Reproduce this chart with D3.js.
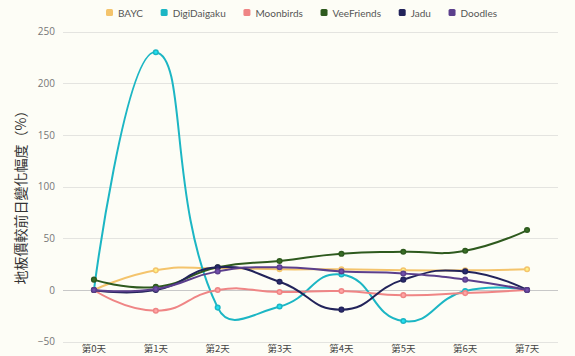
<!DOCTYPE html>
<html><head><meta charset="utf-8">
<script src="https://cdn.jsdelivr.net/npm/d3@7/dist/d3.min.js"></script>
<style>
html,body{margin:0;padding:0;background:#fdfdf6;}
svg{display:block;font-family:"Open Sans","Noto Sans CJK TC",sans-serif;}
</style></head>
<body><svg id="c" width="575" height="356"></svg>
<script>
const categories = ["第0天","第1天","第2天","第3天","第4天","第5天","第6天","第7天"];
const seriesNames = ["BAYC","DigiDaigaku","Moonbirds","VeeFriends","Jadu","Doodles"];
const seriesColors = ["#f4c46c","#1cb6c4","#ef8585","#2e5a1e","#22235a","#5b3f8c"];
const BAYC = [0, 19, 21, 20, 20, 19, 19, 20];
const DigiDaigaku = [0, 230, -17, -16, 15, -30, -1, 0];
const Moonbirds = [0, -20, 0, -2, -1, -5, -3, 0];
const VeeFriends = [10, 3, 22, 28, 35, 37, 38, 58];
const Jadu = [0, 0, 22, 8, -19, 10, 18, 0];
const Doodles = [0, 1, 18, 22, 18, 16, 10, 0];
const yTicks = [-50, 0, 50, 100, 150, 200, 250];
const yTitle = "地板價較前日變化幅度（%）";

const seriesValues = [BAYC, DigiDaigaku, Moonbirds, VeeFriends, Jadu, Doodles];
const svg = d3.select("#c");
const gLeft = 63, gRight = 558, gTop = 31.5, gBottom = 341.7;
const x = d3.scaleBand().domain(categories).range([gLeft, gRight]);
const cx = c => x(c) + x.bandwidth() / 2;
const y = d3.scaleLinear().domain([-50, 250]).range([gBottom, gTop]);

// grid
svg.append("g").selectAll("line").data(yTicks).join("line")
  .attr("x1", gLeft).attr("x2", gRight)
  .attr("y1", d => Math.round(y(d)) + 0.5).attr("y2", d => Math.round(y(d)) + 0.5)
  .attr("stroke", d => d === 0 ? "#c8c8c8" : "#e4e4e0").attr("stroke-width", 1);

// y axis labels
const yAxis = d3.axisLeft(y).tickValues(yTicks).tickSize(0).tickPadding(8);
const gy = svg.append("g").attr("transform", `translate(${gLeft},0)`).call(yAxis);
gy.select(".domain").remove();
gy.selectAll("text").attr("fill", "#777").attr("font-size", 10).attr("font-family", "'Open Sans',sans-serif");

// x axis labels
const xAxis = d3.axisBottom(x).tickSize(0).tickPadding(0);
const gx = svg.append("g").attr("transform", `translate(0,${gBottom + 3})`).call(xAxis);
gx.select(".domain").remove();
gx.selectAll("text").attr("fill", "#444").attr("font-size", 9.5).attr("dy", "0.8em")
  .attr("font-family", "'Noto Sans CJK TC',sans-serif");

// y title
svg.append("text").attr("transform", `translate(26,194) rotate(-90)`)
  .attr("text-anchor", "middle").attr("font-size", 14).attr("fill", "#333")
  .attr("font-family", "'Noto Sans CJK TC',sans-serif").text(yTitle);

// ECharts-like smooth bezier path
function smoothPath(pts, smooth) {
  const p = d3.path();
  let cpx0, cpy0;
  for (let k = 0; k < pts.length; k++) {
    const [px, py] = pts[k];
    if (k === 0) { p.moveTo(px, py); cpx0 = px; cpy0 = py; continue; }
    let cpx1, cpy1, ncx = px, ncy = py;
    if (k === pts.length - 1) { cpx1 = px; cpy1 = py; }
    else {
      const [ax, ay] = pts[k - 1], [bx, by] = pts[k + 1];
      const vx = bx - ax, vy = by - ay;
      const l0 = Math.hypot(px - ax, py - ay), l1 = Math.hypot(bx - px, by - py);
      const r = l1 / (l0 + l1);
      cpx1 = px - vx * smooth * (1 - r); cpy1 = py - vy * smooth * (1 - r);
      ncx = px + vx * smooth * r; ncy = py + vy * smooth * r;
    }
    p.bezierCurveTo(cpx0, cpy0, cpx1, cpy1, px, py);
    cpx0 = ncx; cpy0 = ncy;
  }
  return p.toString();
}

seriesValues.forEach((vals, i) => {
  const pts = vals.map((v, j) => [cx(categories[j]), y(v)]);
  const g = svg.append("g");
  g.append("path").attr("d", smoothPath(pts, 0.5)).attr("fill", "none")
    .attr("stroke", seriesColors[i]).attr("stroke-width", 2);
  g.selectAll("circle").data(vals).join("circle")
    .attr("cx", (d, j) => cx(categories[j])).attr("cy", d => y(d)).attr("r", 2.3)
    .attr("fill", d3.color(seriesColors[i]).brighter(0.6)).attr("stroke", seriesColors[i]).attr("stroke-width", 1.5);
});

// legend
const lg = svg.append("g").attr("font-size", 10).attr("font-family", "Lato,sans-serif");
const legStart = 106, legEnd = 497;
const items = seriesNames.map((n, i) => {
  const t = lg.append("text").attr("y", 16.5).attr("fill", "#555").text(n);
  return { t, w: t.node().getComputedTextLength(), i };
});
const totalW = d3.sum(items, d => d.w + 12);
const gap = (legEnd - legStart - totalW) / (items.length - 1);
let lx = legStart;
items.forEach(d => {
  lg.append("rect").attr("x", lx).attr("y", 9).attr("width", 7).attr("height", 7).attr("rx", 1.5)
    .attr("fill", seriesColors[d.i]);
  d.t.attr("x", lx + 12);
  lx += 12 + d.w + gap;
});
</script></body></html>
